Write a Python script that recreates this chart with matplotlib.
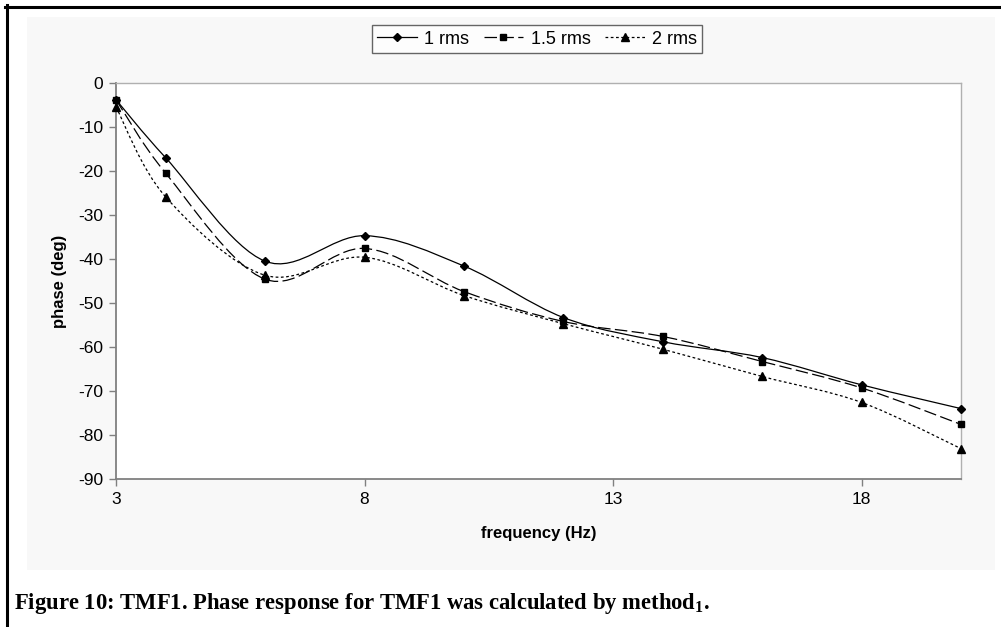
import matplotlib
matplotlib.use("Agg")
import matplotlib.pyplot as plt
from matplotlib.path import Path
from matplotlib.patches import PathPatch, Rectangle
from matplotlib.lines import Line2D
import numpy as np

# ---- data ----
freq = [3, 4, 6, 8, 10, 12, 14, 16, 18, 20]
rms_1 = [-3.8, -17.0, -40.5, -34.7, -41.6, -53.3, -58.8, -62.4, -68.6, -74.0]
rms_1_5 = [-3.8, -20.5, -44.6, -37.6, -47.4, -54.2, -57.6, -63.3, -69.3, -77.6]
rms_2 = [-5.5, -25.9, -43.7, -39.6, -48.3, -54.7, -60.5, -66.7, -72.6, -83.1]
series_labels = ["1 rms", "1.5 rms", "2 rms"]
x_ticks = [3, 8, 13, 18]
y_ticks = [0, -10, -20, -30, -40, -50, -60, -70, -80, -90]

plt.rcParams['font.family'] = ['Liberation Sans', 'DejaVu Sans']
plt.rcParams['axes.unicode_minus'] = False
plt.rcParams['mathtext.fontset'] = 'custom'
plt.rcParams['mathtext.rm'] = 'Liberation Serif:bold'
plt.rcParams['mathtext.bf'] = 'Liberation Serif:bold'

W, H = 1001, 627
fig = plt.figure(figsize=(W / 100, H / 100), dpi=100)
fig.patch.set_facecolor('white')

# chart area background & document frame
bg = Rectangle((27 / W, 1 - 570 / H), (995 - 27) / W, (570 - 17) / H,
               transform=fig.transFigure, facecolor='#f8f8f8', edgecolor='none')
bg.set_zorder(-5)
fig.add_artist(bg)
fig.add_artist(Line2D([6.5 / W, 6.5 / W], [0, 1 - 5 / H], transform=fig.transFigure,
                      color='black', lw=2.2))
fig.add_artist(Line2D([5 / W, 1], [1 - 6.5 / H, 1 - 6.5 / H], transform=fig.transFigure,
                      color='black', lw=2.2))

left, right, top, bottom = 116, 961, 83, 479
ax = fig.add_axes([left / W, 1 - bottom / H, (right - left) / W, (bottom - top) / H])
ax.set_zorder(2)
ax.set_facecolor('white')
ax.set_xlim(3, 20)
ax.set_ylim(-90, 0)
ax.set_xticks(x_ticks)
ax.set_yticks(y_ticks)
ax.tick_params(direction='out', length=5, width=1, color='#808080',
               labelsize=12.5, pad=4)
for s in ['left', 'bottom']:
    ax.spines[s].set_color('#808080')
    ax.spines[s].set_linewidth(1.3)
for s in ['top', 'right']:
    ax.spines[s].set_color('#b0b0b0')
    ax.spines[s].set_linewidth(1.0)


def smooth_path(xs, ys):
    pts = np.column_stack([xs, ys]).astype(float)
    n = len(pts)
    verts = [pts[0]]
    codes = [Path.MOVETO]
    for i in range(n - 1):
        p0 = pts[i - 1] if i > 0 else pts[i]
        p1 = pts[i]
        p2 = pts[i + 1]
        p3 = pts[i + 2] if i + 2 < n else pts[i + 1]
        c1 = p1 + (p2 - p0) / 6.0
        c2 = p2 - (p3 - p1) / 6.0
        verts += [c1, c2, p2]
        codes += [Path.CURVE4] * 3
    return Path(verts, codes)


styles = [
    dict(ls='-', marker='D', ms=4.5),
    dict(ls=(0, (10, 3.5)), marker='s', ms=5),
    dict(ls=(0, (2.2, 2)), marker='^', ms=5.5),
]
handles = []
for ys, st, lab in zip([rms_1, rms_1_5, rms_2], styles, series_labels):
    patch = PathPatch(smooth_path(freq, ys), facecolor='none', edgecolor='black',
                      lw=0.9, linestyle=st['ls'], transform=ax.transData, zorder=3)
    patch.set_clip_on(False)
    ax.add_patch(patch)
    ax.plot(freq, ys, linestyle='none', marker=st['marker'], ms=st['ms'],
            color='black', zorder=4, clip_on=False)
    handles.append(Line2D([], [], color='black', lw=0.9, linestyle=st['ls'],
                          marker=st['marker'], ms=st['ms']))

ax.set_xlabel('frequency (Hz)', fontsize=12, fontweight='bold', labelpad=14)
ax.set_ylabel('phase (deg)', fontsize=12, fontweight='bold', labelpad=8)

leg = fig.legend(handles, series_labels, loc='center', bbox_to_anchor=(537 / W, 1 - 39 / H),
                 ncol=3, frameon=True, fontsize=13, handlelength=2.2, handletextpad=0.4,
                 columnspacing=0.8, borderpad=0.3, fancybox=False)
leg.get_frame().set_edgecolor('#404040')
leg.get_frame().set_linewidth(1.0)
leg.get_frame().set_facecolor('white')
leg.set_zorder(5)

fig.text(14 / W, 1 - 609 / H,
         r'Figure 10: TMF1. Phase response for TMF1 was calculated by method$_\mathbf{1}$.',
         fontsize=16.3, fontweight='bold', family=['Liberation Serif'],
         ha='left', va='baseline')

fig.savefig('out.png', dpi=100, facecolor='white')
